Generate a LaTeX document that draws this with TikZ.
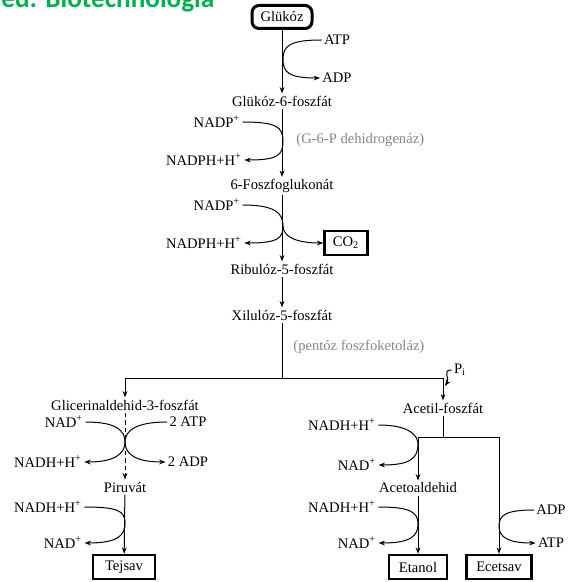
\documentclass[tikz,border=0pt]{standalone}
\usepackage{fontspec}
\setmainfont{Liberation Serif}
\newfontfamily\titlefont{Carlito}
\usetikzlibrary{arrows.meta}
\definecolor{titlegreen}{RGB}{0, 176, 80}
\definecolor{enzgray}{RGB}{135, 135, 135}

\begin{document}
\begin{tikzpicture}[
  x=0.5pt, y=-0.5pt,
  font=\fontsize{7.3}{8.5}\selectfont,
  every node/.style={inner sep=1pt},
  arr/.style={-{Stealth[length=3.2pt,width=2.4pt]}, line width=0.5pt},
  link/.style={line width=0.5pt},
  prod/.style={draw, line width=1.2pt, inner sep=2pt,
               minimum height=12pt},
  enz/.style={text=enzgray, anchor=west}
]
  \useasboundingbox (0,0) rectangle (573,582);
  \node[anchor=base west, font=\titlefont\bfseries\fontsize{13.6}{15}\selectfont,
        text=titlegreen] (title) at (-1,8) {ed: Biotechnológia};

  % main chain
  \node[draw, line width=1.5pt, rounded corners=3.5pt, inner sep=2pt,
        minimum width=30pt, minimum height=11.5pt] (glc) at (282,17) {Glükóz};
  \node (g6p)  at (282,101) {Glükóz-6-foszfát};
  \node (pgl)  at (282,186) {6-Foszfoglukonát};
  \node (ru5p) at (282,269) {Ribulóz-5-foszfát};
  \node (xu5p) at (282,315) {Xilulóz-5-foszfát};
  \node[prod, minimum width=21.5pt] (co2) at (346,243) {CO\textsubscript{2}};

  \node (atp1) at (337,40) {ATP};
  \node (adp1) at (337,78) {ADP};
  \node (nadp1)  at (217,122) {NADP\textsuperscript{+}};
  \node (nadph1) at (204,160) {NADPH+H\textsuperscript{+}};
  \node (nadp2)  at (217,205) {NADP\textsuperscript{+}};
  \node (nadph2) at (204,243) {NADPH+H\textsuperscript{+}};
  \node[enz] (g6pdh) at (294,140) {(G-6-P dehidrogenáz)};
  \node[enz] (pkl)   at (291,347) {(pentóz foszfoketoláz)};

  \coordinate (t0) at (283,59);
  \coordinate (t1) at (283,141);
  \coordinate (t2) at (283,226);
  \coordinate (split) at (282,378);

  \draw[arr] (glc) -- (g6p);
  \draw[arr] (g6p) -- (pgl);
  \draw[arr] (pgl) -- (ru5p);
  \draw[arr] (ru5p) -- (xu5p);
  \draw[link] (xu5p) -- (split);

  \draw[arr] (atp1.west) .. controls +(-32,0) and +(0,-13) .. (t0)
             .. controls +(0,13) and +(-32,0) .. (adp1.west);
  \draw[arr] (nadp1.east) .. controls +(34,0) and +(0,-14) .. (t1)
             .. controls +(0,14) and +(34,0) .. (nadph1.east);
  \draw[arr] (nadp2.east) .. controls +(34,0) and +(0,-12) .. (t2)
             .. controls +(0,12) and +(34,0) .. (nadph2.east);
  \draw[arr] (t2) .. controls +(0,12) and +(-24,0) .. (co2.west);

  % lactic branch
  \node (gap3p) at (125,405) {Glicerinaldehid-3-foszfát};
  \node (pyr)   at (125,487) {Piruvát};
  \node[prod, minimum width=31pt] (lac) at (124,567) {Tejsav};
  \node (nad1)  at (64,422)  {NAD\textsuperscript{+}};
  \node (nadh1) at (48,462)  {NADH+H\textsuperscript{+}};
  \node (atp2)  at (188,422) {2 ATP};
  \node (adp2)  at (188,462) {2 ADP};
  \node (nadh2) at (48,507)  {NADH+H\textsuperscript{+}};
  \node (nad2)  at (63,543)  {NAD\textsuperscript{+}};
  \coordinate (t3) at (125,442);
  \coordinate (t4) at (125,523);

  \draw[arr] (split) -| (gap3p.north);
  \draw[arr, dash pattern=on 2.2pt off 1.6pt] (gap3p) -- (pyr);
  \draw[arr] (pyr) -- (lac);
  \draw[arr] (nad1.east) .. controls +(30,0) and +(0,-12) .. (t3)
             .. controls +(0,12) and +(30,0) .. (nadh1.east);
  \draw[arr] (atp2.west) .. controls +(-30,0) and +(0,-12) .. (t3)
             .. controls +(0,12) and +(-30,0) .. (adp2.west);
  \draw[arr] (nadh2.east) .. controls +(34,0) and +(0,-12) .. (t4)
             .. controls +(0,12) and +(34,0) .. (nad2.east);

  % acetyl branch
  \node (pi)    at (460,370) {P\textsubscript{i}};
  \node (acp)   at (443,408) {Acetil-foszfát};
  \node (acald) at (418,488) {Acetoaldehid};
  \node[prod, minimum width=29pt] (etoh) at (418,567) {Etanol};
  \node[prod, minimum width=32.5pt] (ace) at (499,567) {Ecetsav};
  \node (nadh3) at (342,425) {NADH+H\textsuperscript{+}};
  \node (nad3)  at (357,465) {NAD\textsuperscript{+}};
  \node (nadh4) at (342,507) {NADH+H\textsuperscript{+}};
  \node (nad4)  at (357,543) {NAD\textsuperscript{+}};
  \node (adp3)  at (551,510) {ADP};
  \node (atp3)  at (551,543) {ATP};
  \coordinate (pin)  at (445,386);
  \coordinate (fork) at (443,437);
  \coordinate (t5) at (418,444);
  \coordinate (t6) at (418,524);
  \coordinate (t7) at (499,526);

  \draw[arr] (split) -| (acp.north);
  \draw[arr] (pi.west) .. controls +(-10,0) and +(5,-8) .. (pin);
  \draw[link] (acp) -- (fork);
  \draw[arr] (fork) -| (acald.north);
  \draw[arr] (fork) -| (ace.north);
  \draw[arr] (acald) -- (etoh);
  \draw[arr] (nadh3.east) .. controls +(32,0) and +(0,-8) .. (t5)
             .. controls +(0,14) and +(32,0) .. (nad3.east);
  \draw[arr] (nadh4.east) .. controls +(32,0) and +(0,-12) .. (t6)
             .. controls +(0,12) and +(32,0) .. (nad4.east);
  \draw[arr] (adp3.west) .. controls +(-28,0) and +(0,-11) .. (t7)
             .. controls +(0,11) and +(-28,0) .. (atp3.west);
\end{tikzpicture}
\end{document}
